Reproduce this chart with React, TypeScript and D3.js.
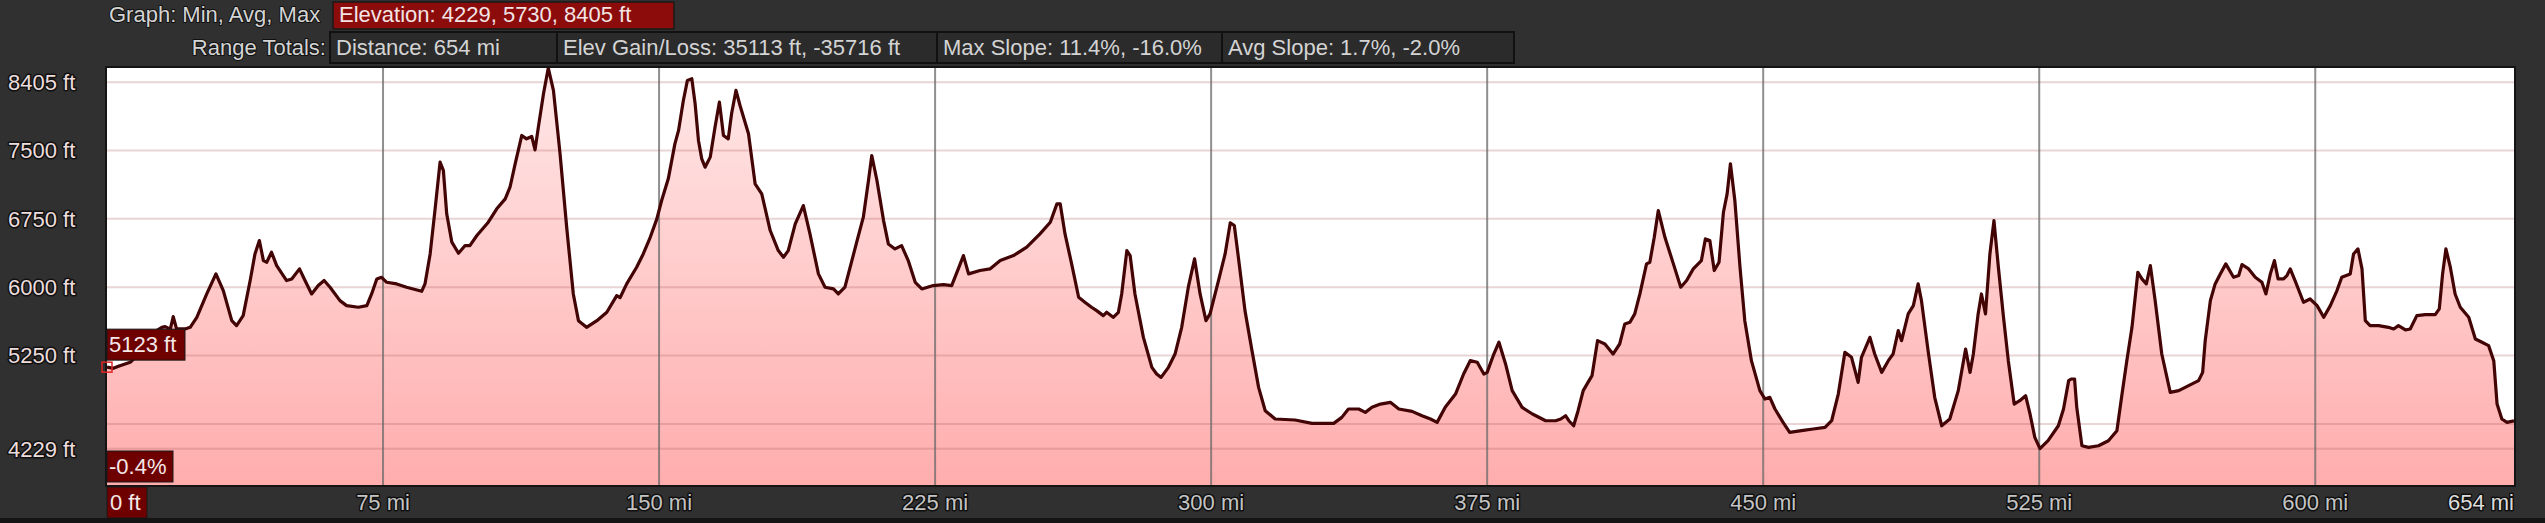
import React, { useEffect } from 'react';
import * as d3 from 'd3';

// ---- data ----
const profileMi = [
  0, 1.7, 3.5, 6.3, 8.5, 10.5, 12.5, 14.9, 15.8, 17.2, 18.0, 18.9, 21.2, 22.6, 24.4, 27.1, 29.6, 31.6, 33.9, 35.2,
  37.0, 38.9, 40.2, 41.4, 42.5, 43.4, 44.7, 46.1, 48.8, 50.2, 52.3, 53.8, 55.6, 57.4, 59.0, 60.6, 63.3, 65.1, 68.3, 70.6,
  71.9, 73.3, 74.6, 76.0, 78.7, 81.4, 83.2, 85.5, 86.4, 87.8, 89.1, 90.5, 91.4, 92.3, 93.7, 95.5, 97.3, 98.6, 100.5, 103.6,
  105.9, 108.2, 109.5, 110.9, 112.7, 114.0, 115.4, 116.3, 117.2, 118.6, 119.9, 121.3, 123.1, 124.9, 126.7, 128.1, 130.3, 133.1, 135.8, 138.5,
  139.4, 141.2, 143.9, 145.7, 147.6, 149.4, 150.7, 152.5, 154.3, 155.3, 156.6, 157.7, 158.9, 159.8, 160.7, 161.6, 162.5, 163.9, 165.2, 166.4,
  167.5, 168.8, 169.7, 170.9, 172.0, 174.3, 176.1, 177.9, 180.2, 182.4, 183.8, 185.1, 187.0, 189.2, 191.0, 193.3, 195.1, 197.4, 198.7, 200.5,
  203.7, 205.5, 206.9, 207.8, 209.2, 211.0, 212.3, 214.1, 215.9, 217.7, 219.6, 221.4, 224.5, 227.3, 229.5, 231.3, 232.7, 234.1, 237.2, 239.9,
  242.7, 246.3, 249.9, 253.5, 256.3, 258.1, 259.0, 260.3, 262.1, 264.0, 265.7, 267.5, 268.9, 270.7, 271.6, 273.4, 274.8, 275.7, 277.1, 278.0,
  279.3, 281.6, 283.9, 285.2, 286.4, 288.4, 290.2, 292.0, 293.8, 295.5, 297.0, 298.6, 299.7, 302.0, 303.8, 305.2, 306.3, 307.4, 309.2, 311.1,
  312.9, 314.7, 317.4, 322.8, 327.4, 333.3, 335.5, 337.3, 340.1, 341.9, 343.7, 346.0, 348.7, 351.0, 354.6, 357.3, 359.6, 361.4, 363.6, 366.4,
  368.6, 370.4, 372.3, 374.1, 375.0, 376.8, 378.2, 380.0, 381.8, 384.5, 387.3, 390.9, 393.6, 395.0, 396.3, 397.2, 398.5, 399.7, 401.1, 402.4,
  403.5, 405.0, 407.0, 409.2, 411.0, 412.4, 413.8, 415.1, 416.5, 418.3, 419.2, 420.4, 421.5, 423.3, 425.6, 427.6, 429.2, 431.0, 433.2, 434.3,
  435.5, 436.7, 438.0, 439.2, 440.2, 441.1, 442.3, 443.7, 445.0, 446.8, 449.1, 450.5, 451.8, 453.2, 455.4, 457.2, 460.4, 463.6, 466.8, 468.6,
  470.4, 472.2, 474.0, 475.8, 476.7, 479.0, 480.3, 482.2, 484.0, 485.3, 486.7, 487.6, 489.4, 490.8, 492.1, 493.0, 494.8, 496.6, 498.5, 500.7,
  503.0, 505.0, 506.2, 507.1, 508.4, 509.3, 510.4, 511.6, 512.7, 513.9, 515.3, 516.6, 518.2, 519.7, 521.3, 522.5, 523.8, 525.2, 527.4, 530.2,
  531.6, 533.0, 533.7, 534.6, 535.2, 536.6, 538.4, 541.1, 543.8, 546.1, 547.5, 548.8, 550.2, 551.8, 552.9, 554.1, 555.2, 556.5, 558.3, 560.6,
  562.9, 565.6, 568.3, 569.4, 570.1, 571.5, 572.8, 574.2, 575.7, 577.8, 579.2, 580.1, 581.9, 583.7, 585.5, 586.6, 587.8, 588.9, 589.9, 591.4,
  592.3, 593.2, 594.7, 596.8, 598.6, 600.5, 602.3, 604.1, 605.9, 607.2, 609.5, 610.4, 611.6, 612.7, 613.6, 614.9, 617.2, 619.9, 621.3, 622.6,
  624.5, 625.8, 627.6, 629.9, 632.6, 633.7, 634.6, 635.5, 636.7, 638.0, 639.4, 641.7, 643.5, 645.3, 647.1, 648.5, 649.4, 650.7, 652.1, 654,
];

const profileFt = [
  5123, 5110, 5139, 5176, 5260, 5380, 5500, 5560, 5567, 5540, 5677, 5542, 5542, 5560, 5670, 5926, 6146, 5963, 5633, 5578,
  5688, 6073, 6365, 6512, 6292, 6274, 6384, 6237, 6073, 6091, 6201, 6073, 5926, 6018, 6073, 6000, 5853, 5798, 5780, 5798,
  5926, 6091, 6109, 6054, 6036, 6000, 5981, 5955, 6036, 6365, 6841, 7372, 7280, 6805, 6494, 6373, 6457, 6457, 6567, 6713,
  6860, 6969, 7097, 7354, 7665, 7628, 7654, 7507, 7756, 8122, 8405, 8159, 7463, 6658, 5926, 5633, 5560, 5633, 5725, 5908,
  5885, 6036, 6219, 6365, 6548, 6750, 6951, 7189, 7573, 7720, 8049, 8269, 8287, 8012, 7610, 7408, 7317, 7427, 7756, 8031,
  7665, 7628, 7903, 8159, 7994, 7683, 7134, 7024, 6622, 6402, 6329, 6402, 6695, 6896, 6585, 6146, 6000, 5981, 5926, 6000,
  6494, 6768, 7171, 7445, 7171, 6731, 6475, 6420, 6457, 6292, 6054, 5981, 6018, 6029, 6018, 6201, 6347, 6146, 6183, 6201,
  6292, 6347, 6439, 6585, 6713, 6914, 6914, 6585, 6256, 5890, 5835, 5780, 5743, 5688, 5725, 5670, 5725, 5926, 6402, 6347,
  5926, 5450, 5121, 5048, 5011, 5121, 5267, 5560, 6000, 6311, 5926, 5633, 5707, 6073, 6365, 6706, 6677, 6329, 5743, 5304,
  4901, 4645, 4554, 4543, 4506, 4506, 4572, 4664, 4664, 4627, 4682, 4718, 4737, 4664, 4638, 4590, 4554, 4517, 4682, 4828,
  5048, 5194, 5176, 5048, 5066, 5267, 5396, 5158, 4865, 4682, 4609, 4535, 4535, 4554, 4590, 4535, 4480, 4645, 4865, 4956,
  5030, 5414, 5377, 5267, 5377, 5597, 5615, 5707, 5926, 6256, 6274, 6548, 6841, 6548, 6256, 6000, 6073, 6201, 6292, 6530,
  6512, 6183, 6274, 6823, 7024, 7354, 6951, 6219, 5633, 5194, 4865, 4773, 4792, 4664, 4517, 4407, 4426, 4444, 4462, 4535,
  4828, 5286, 5231, 4956, 5231, 5450, 5267, 5066, 5194, 5267, 5523, 5414, 5707, 5798, 6036, 5853, 5304, 4792, 4480, 4554,
  4865, 5322, 5066, 5267, 5707, 5926, 5707, 6365, 6731, 6219, 5670, 5194, 4718, 4755, 4810, 4609, 4352, 4229, 4316, 4480,
  4664, 4975, 4993, 4993, 4682, 4261, 4243, 4261, 4316, 4426, 4828, 5194, 5560, 6164, 6091, 6036, 6237, 5853, 5267, 4846,
  4865, 4920, 4975, 5066, 5414, 5853, 6036, 6146, 6256, 6109, 6128, 6249, 6201, 6109, 6054, 5926, 6146, 6292, 6091, 6091,
  6128, 6201, 6054, 5835, 5871, 5798, 5670, 5798, 5963, 6109, 6146, 6365, 6420, 6201, 5633, 5579, 5579, 5560, 5542, 5579,
  5531, 5542, 5688, 5699, 5699, 5762, 6146, 6420, 6219, 5926, 5780, 5670, 5432, 5396, 5359, 5194, 4718, 4554, 4517, 4535,
];

const xGridValues = [75, 150, 225, 300, 375, 450, 525, 600];
const xTickLabels = ['75 mi', '150 mi', '225 mi', '300 mi', '375 mi', '450 mi', '525 mi', '600 mi'];
const xEndLabel = '654 mi';
const xStartLabel = '0 ft';
const yGridValues = [8250, 7500, 6750, 6000, 5250, 4500, 4229];
const yTickLabels = ['8405 ft', '7500 ft', '6750 ft', '6000 ft', '5250 ft', '', '4229 ft'];

const graphLabel = 'Graph: Min, Avg, Max';
const elevationSummary = 'Elevation: 4229, 5730, 8405 ft';
const rangeLabel = 'Range Totals:';
const rangeTotals = [
  'Distance: 654 mi',
  'Elev Gain/Loss: 35113 ft, -35716 ft',
  'Max Slope: 11.4%, -16.0%',
  'Avg Slope: 1.7%, -2.0%',
];
const cursorElevation = 5123;
const cursorElevLabel = '5123 ft';
const cursorSlopeLabel = '-0.4%';

// ---- layout ----
const W = 2545;
const H = 523;
const PL = 107;
const PR = 2514;
const PT = 68;
const PB = 485;
const FONT = '"Liberation Sans", Arial, sans-serif';
const rangeBoxEdges = [330, 557, 937, 1222, 1514];

export default function App() {
  useEffect(() => {
    document.body.style.margin = '0';
    document.body.style.background = '#303030';
  }, []);

  const x = d3.scaleLinear().domain([0, 654]).range([PL, PR]);
  const y = d3.scaleLinear().domain([3830, 8405]).range([PB, PT]);
  const pts: [number, number][] = profileMi.map((m, i) => [m, profileFt[i]]);
  const area = d3.area<[number, number]>().x((d) => x(d[0])).y0(PB).y1((d) => y(d[1]));
  const line = d3.line<[number, number]>().x((d) => x(d[0])).y((d) => y(d[1]));

  const cy = y(cursorElevation);

  const outlined = {
    stroke: '#101010',
    strokeWidth: 3,
    paintOrder: 'stroke' as const,
    strokeLinejoin: 'round' as const,
  };

  return (
    <svg width={W} height={H} style={{ display: 'block', background: '#303030' }} fontFamily={FONT}>
      <defs>
        <linearGradient id="fillGrad" gradientUnits="userSpaceOnUse" x1="0" y1={PT} x2="0" y2={PB}>
          <stop offset="0" stopColor="#ffe8e8" />
          <stop offset="1" stopColor="#ffadad" />
        </linearGradient>
        <clipPath id="plotClip">
          <rect x={PL} y={PT} width={PR - PL} height={PB - PT} />
        </clipPath>
      </defs>

      {/* header row 1 */}
      <text x={109} y={22} fontSize={22} fill="#d4d4d4" {...outlined} strokeWidth={2}>
        {graphLabel}
      </text>
      <rect x={333} y={2} width={341} height={27} fill="#8c0b0b" stroke="#1a1a1a" strokeWidth={1.5} />
      <text x={339} y={22} fontSize={22} fill="#f2e4e4">
        {elevationSummary}
      </text>

      {/* header row 2 */}
      <text x={326} y={55} fontSize={22} fill="#d4d4d4" textAnchor="end" {...outlined} strokeWidth={2}>
        {rangeLabel}
      </text>
      {rangeTotals.map((t, i) => (
        <g key={t}>
          <rect
            x={rangeBoxEdges[i]}
            y={32}
            width={rangeBoxEdges[i + 1] - rangeBoxEdges[i]}
            height={31}
            fill="#2b2b2b"
            stroke="#111"
            strokeWidth={2}
          />
          <text x={rangeBoxEdges[i] + 6} y={55} fontSize={22} fill="#d4d4d4">
            {t}
          </text>
        </g>
      ))}

      {/* plot */}
      <rect x={PL} y={PT} width={PR - PL} height={PB - PT} fill="#ffffff" />
      <g clipPath="url(#plotClip)">
        <path d={area(pts) || ''} fill="url(#fillGrad)" />
        {yGridValues.map((v) => (
          <line key={v} x1={PL} x2={PR} y1={y(v)} y2={y(v)} stroke="#a85858" strokeOpacity={0.25} strokeWidth={2} />
        ))}
        {xGridValues.map((v) => (
          <line key={v} x1={x(v)} x2={x(v)} y1={PT} y2={PB} stroke="#6a6a6a" strokeOpacity={0.75} strokeWidth={2} />
        ))}
        <path d={line(pts) || ''} fill="none" stroke="#420404" strokeWidth={3.2} strokeLinejoin="round" />
      </g>
      <rect x={PL - 1} y={PT - 1} width={PR - PL + 2} height={PB - PT + 2} fill="none" stroke="#141414" strokeWidth={2} />

      {/* y labels */}
      {yGridValues.map((v, i) =>
        yTickLabels[i] ? (
          <text key={v} x={8} y={y(v)} dy="0.36em" fontSize={22} fill="#ecdcdc" {...outlined}>
            {yTickLabels[i]}
          </text>
        ) : null
      )}

      {/* x labels */}
      {xGridValues.map((v, i) => (
        <text key={v} x={x(v)} y={510} fontSize={22} fill="#c4c4c4" textAnchor="middle" {...outlined}>
          {xTickLabels[i]}
        </text>
      ))}
      <text x={PR} y={510} fontSize={22} fill="#dcdcdc" textAnchor="end" {...outlined}>
        {xEndLabel}
      </text>
      <rect x={PL} y={487} width={40} height={31} fill="#6e0000" stroke="#1a1a1a" strokeWidth={1} />
      <text x={PL + 3} y={510} fontSize={22} fill="#f4e8e8">
        {xStartLabel}
      </text>

      {/* cursor */}
      <rect x={x(0) - 5} y={cy - 5} width={10} height={10} fill="none" stroke="#e02424" strokeWidth={1.5} />
      <rect x={PL} y={cy - 38} width={78} height={31} fill="#6e0000" stroke="#1a1a1a" strokeWidth={1} />
      <text x={PL + 2} y={cy - 15} fontSize={22} fill="#f4e8e8">
        {cursorElevLabel}
      </text>
      <rect x={PL} y={451} width={66} height={31} fill="#6e0000" stroke="#1a1a1a" strokeWidth={1} />
      <text x={PL + 2} y={474} fontSize={22} fill="#f4e8e8">
        {cursorSlopeLabel}
      </text>

      {/* bottom strip */}
      <rect x={0} y={518} width={W} height={H - 518} fill="#141414" />
    </svg>
  );
}
